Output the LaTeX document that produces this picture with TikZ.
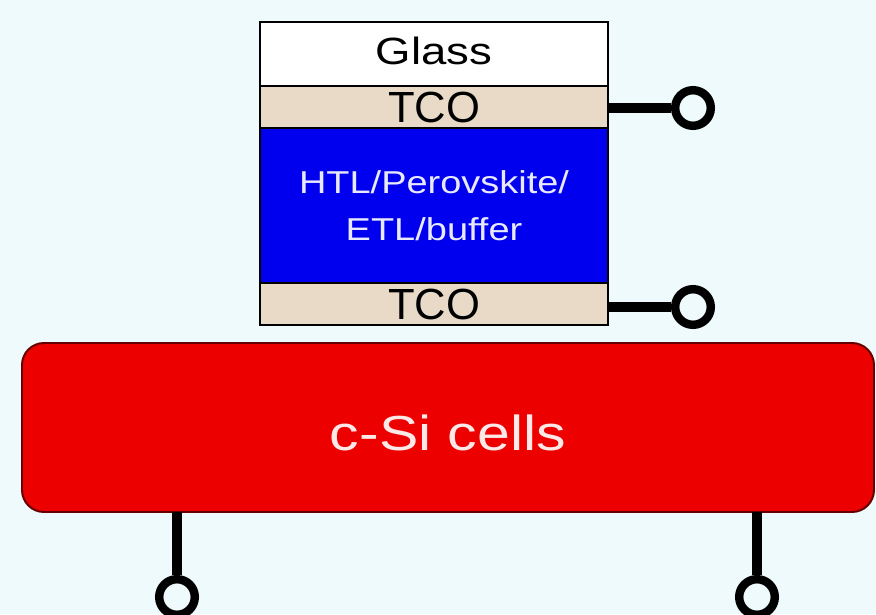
\documentclass[tikz,border=0pt]{standalone}
\usepackage{fontspec}
\setmainfont{Liberation Sans}
\newfontfamily\widesans[FakeStretch=1.2]{Liberation Sans}
\usepackage{xcolor}
\usetikzlibrary{positioning}

\definecolor{bgcyan}{RGB}{239,250,252}
\definecolor{tcotan}{RGB}{232,218,198}
\definecolor{pvkblue}{RGB}{0,0,238}
\definecolor{sired}{RGB}{236,0,0}

\tikzset{
  layer/.style={draw=black, line width=1.4pt, minimum width=8.7cm, inner sep=0pt, outer sep=0pt},
  term/.style={circle, draw=black, line width=6pt, fill=bgcyan, minimum size=0.89cm, inner sep=0pt},
  lead/.style={line width=6.5pt}
}

\begin{document}
\begin{tikzpicture}
\fill[bgcyan] (0,0) rectangle (21.9,-15.35);
\useasboundingbox (0,0) rectangle (21.9,-15.35);

% perovskite top cell
\node[layer, fill=white, minimum height=1.6cm, text depth=4.3pt, font=\widesans\fontsize{27}{30}\selectfont] (glass) at (10.85,-1.35) {Glass};
\node[layer, fill=tcotan, minimum height=1.05cm, below=0pt of glass, font=\fontsize{31}{34}\selectfont] (tcotop) {TCO};
\node[layer, fill=pvkblue, minimum height=3.875cm, below=0pt of tcotop, align=center, text={rgb,255:red,232;green,232;blue,255}, font=\widesans\fontsize{22.5}{33.4}\selectfont] (pvk) {HTL/Perovskite/\\ETL/buffer};
\node[layer, fill=tcotan, minimum height=1.05cm, below=0pt of pvk, font=\fontsize{31}{34}\selectfont] (tcobot) {TCO};

% silicon bottom cell
\node[draw=black!60!red, line width=1.4pt, fill=sired, rounded corners=0.55cm, minimum width=21.3cm, minimum height=4.225cm, inner sep=0pt, outer sep=0pt, text height=32pt, text depth=0pt, text={rgb,255:red,255;green,232;blue,232}, font=\widesans\fontsize{35}{40}\selectfont] (cell) at (11.2,-10.6875) {c-Si cells};

% terminals
\node[term] (t1) at (17.325,-2.7) {};
\node[term] (t2) at (17.325,-7.675) {};
\node[term] (t3) at (4.425,-14.925) {};
\node[term] (t4) at (18.925,-14.925) {};

\draw[lead] (tcotop.east |- t1) -- (t1);
\draw[lead] (tcobot.east |- t2) -- (t2);
\draw[lead] (t3 |- cell.south) -- (t3);
\draw[lead] (t4 |- cell.south) -- (t4);
\end{tikzpicture}
\end{document}
